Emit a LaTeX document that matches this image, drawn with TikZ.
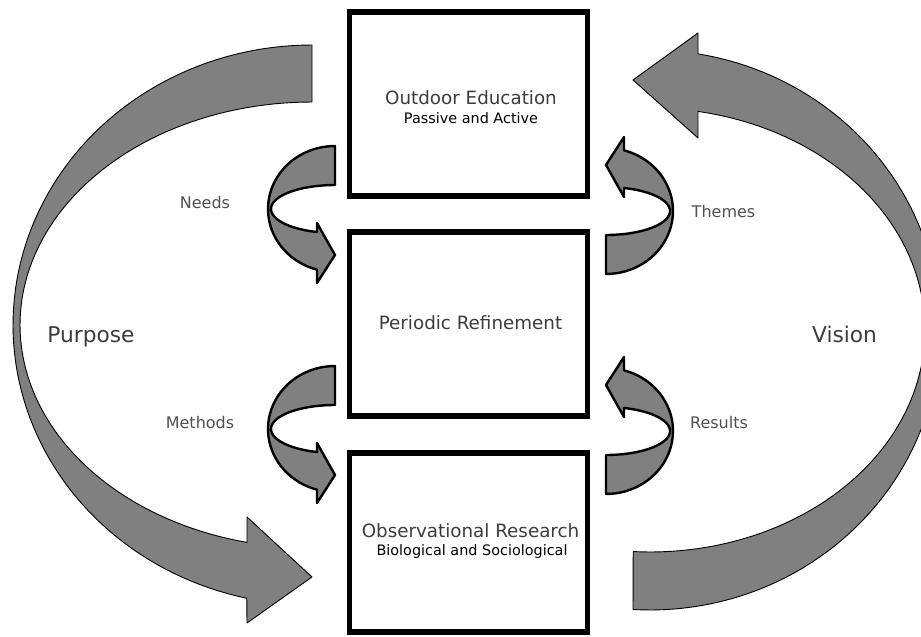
\documentclass[tikz,border=0pt]{standalone}
\usepackage{fontspec}
\setmainfont{DejaVu Sans}
\definecolor{arrowgray}{RGB}{128,128,128}
\definecolor{titletext}{RGB}{60,60,60}
\definecolor{sidetext}{RGB}{80,80,80}
\newcommand\smallarrowpath{(0,-63) -- plot[domain=270:105.6,samples=40] ({67*cos(\x)},{63*sin(\x)}) -- (-18,74) -- (0,46) -- (-18,14) -- plot[domain=106.3:270,samples=40] ({64*cos(\x)},{24*sin(\x)}) -- cycle}
\begin{document}
\begin{tikzpicture}[x=1pt,y=-1pt,
  bigarrow/.style={fill=arrowgray, draw=black, line width=0.9pt, line join=round},
  smallarrow/.style={fill=arrowgray, draw=black, line width=2.4pt, line join=round},
  box/.style={draw=black, fill=white, line width=5.5pt, inner sep=0pt},
  title/.style={anchor=base, text=titletext, font=\fontsize{18.3}{20}\selectfont, inner sep=0pt},
  subtitle/.style={anchor=base, text=black, font=\fontsize{14.4}{16}\selectfont, inner sep=0pt},
  sidelabel/.style={anchor=base, text=sidetext, font=\fontsize{16}{18}\selectfont, inner sep=0pt},
  biglabel/.style={anchor=base, text=titletext, font=\fontsize{21.7}{24}\selectfont, inner sep=0pt}]
\useasboundingbox (0,0) rectangle (921,637);
\fill[white] (0,0) rectangle (921,637);
\clip (0,0) rectangle (921,637);
% Purpose arrow (left)
\draw[bigarrow] (312,45) -- plot[domain=270:102.6,samples=90] ({312+299*cos(\x)},{325+280*sin(\x)}) -- (247,623) -- (312,577) -- (247,517) -- plot[domain=102.86:270,samples=90] ({312+292*cos(\x)},{325+223*sin(\x)}) -- cycle;
% Vision arrow (right)
\draw[bigarrow] (698,33) -- (698,54) -- plot[domain=-80.47:93.36,samples=90] ({650+290*cos(\x)},{330+280*sin(\x)}) -- plot[domain=93.5:-79.95,samples=90] ({650+275*cos(\x)},{330+222*sin(\x)}) -- (698,138) -- (633,80) -- cycle;
% small arrows
\begin{scope}[shift={(335,209)}]
  \draw[smallarrow] \smallarrowpath;
\end{scope}
\begin{scope}[shift={(335,429)}]
  \draw[smallarrow] \smallarrowpath;
\end{scope}
\begin{scope}[shift={(606,211)},rotate=180]
  \draw[smallarrow] \smallarrowpath;
\end{scope}
\begin{scope}[shift={(606,431)},rotate=180]
  \draw[smallarrow] \smallarrowpath;
\end{scope}
% boxes
\node[box, minimum width=238pt, minimum height=184pt] (outdoor) at (468.5,104) {};
\node[box, minimum width=238pt, minimum height=184pt] (refine) at (468.5,324) {};
\node[box, minimum width=238pt, minimum height=179pt] (research) at (468.5,542.5) {};
% box texts
\node[title] (outdoorT) at (471,104) {Outdoor Education};
\node[subtitle] (outdoorS) at (471,123) {Passive and Active};
\node[title] (refineT) at (470.5,329) {Periodic Refinement};
\node[title] (researchT) at (470.5,537) {Observational Research};
\node[subtitle] (researchS) at (472,555) {Biological and Sociological};
% side labels
\node[sidelabel] (needs) at (205,208) {Needs};
\node[sidelabel] (themes) at (723.5,217) {Themes};
\node[sidelabel] (methods) at (200,428) {Methods};
\node[sidelabel] (results) at (719,428) {Results};
\node[biglabel] (purpose) at (91,342) {Purpose};
\node[biglabel] (vision) at (844.5,342) {Vision};
\end{tikzpicture}
\end{document}
